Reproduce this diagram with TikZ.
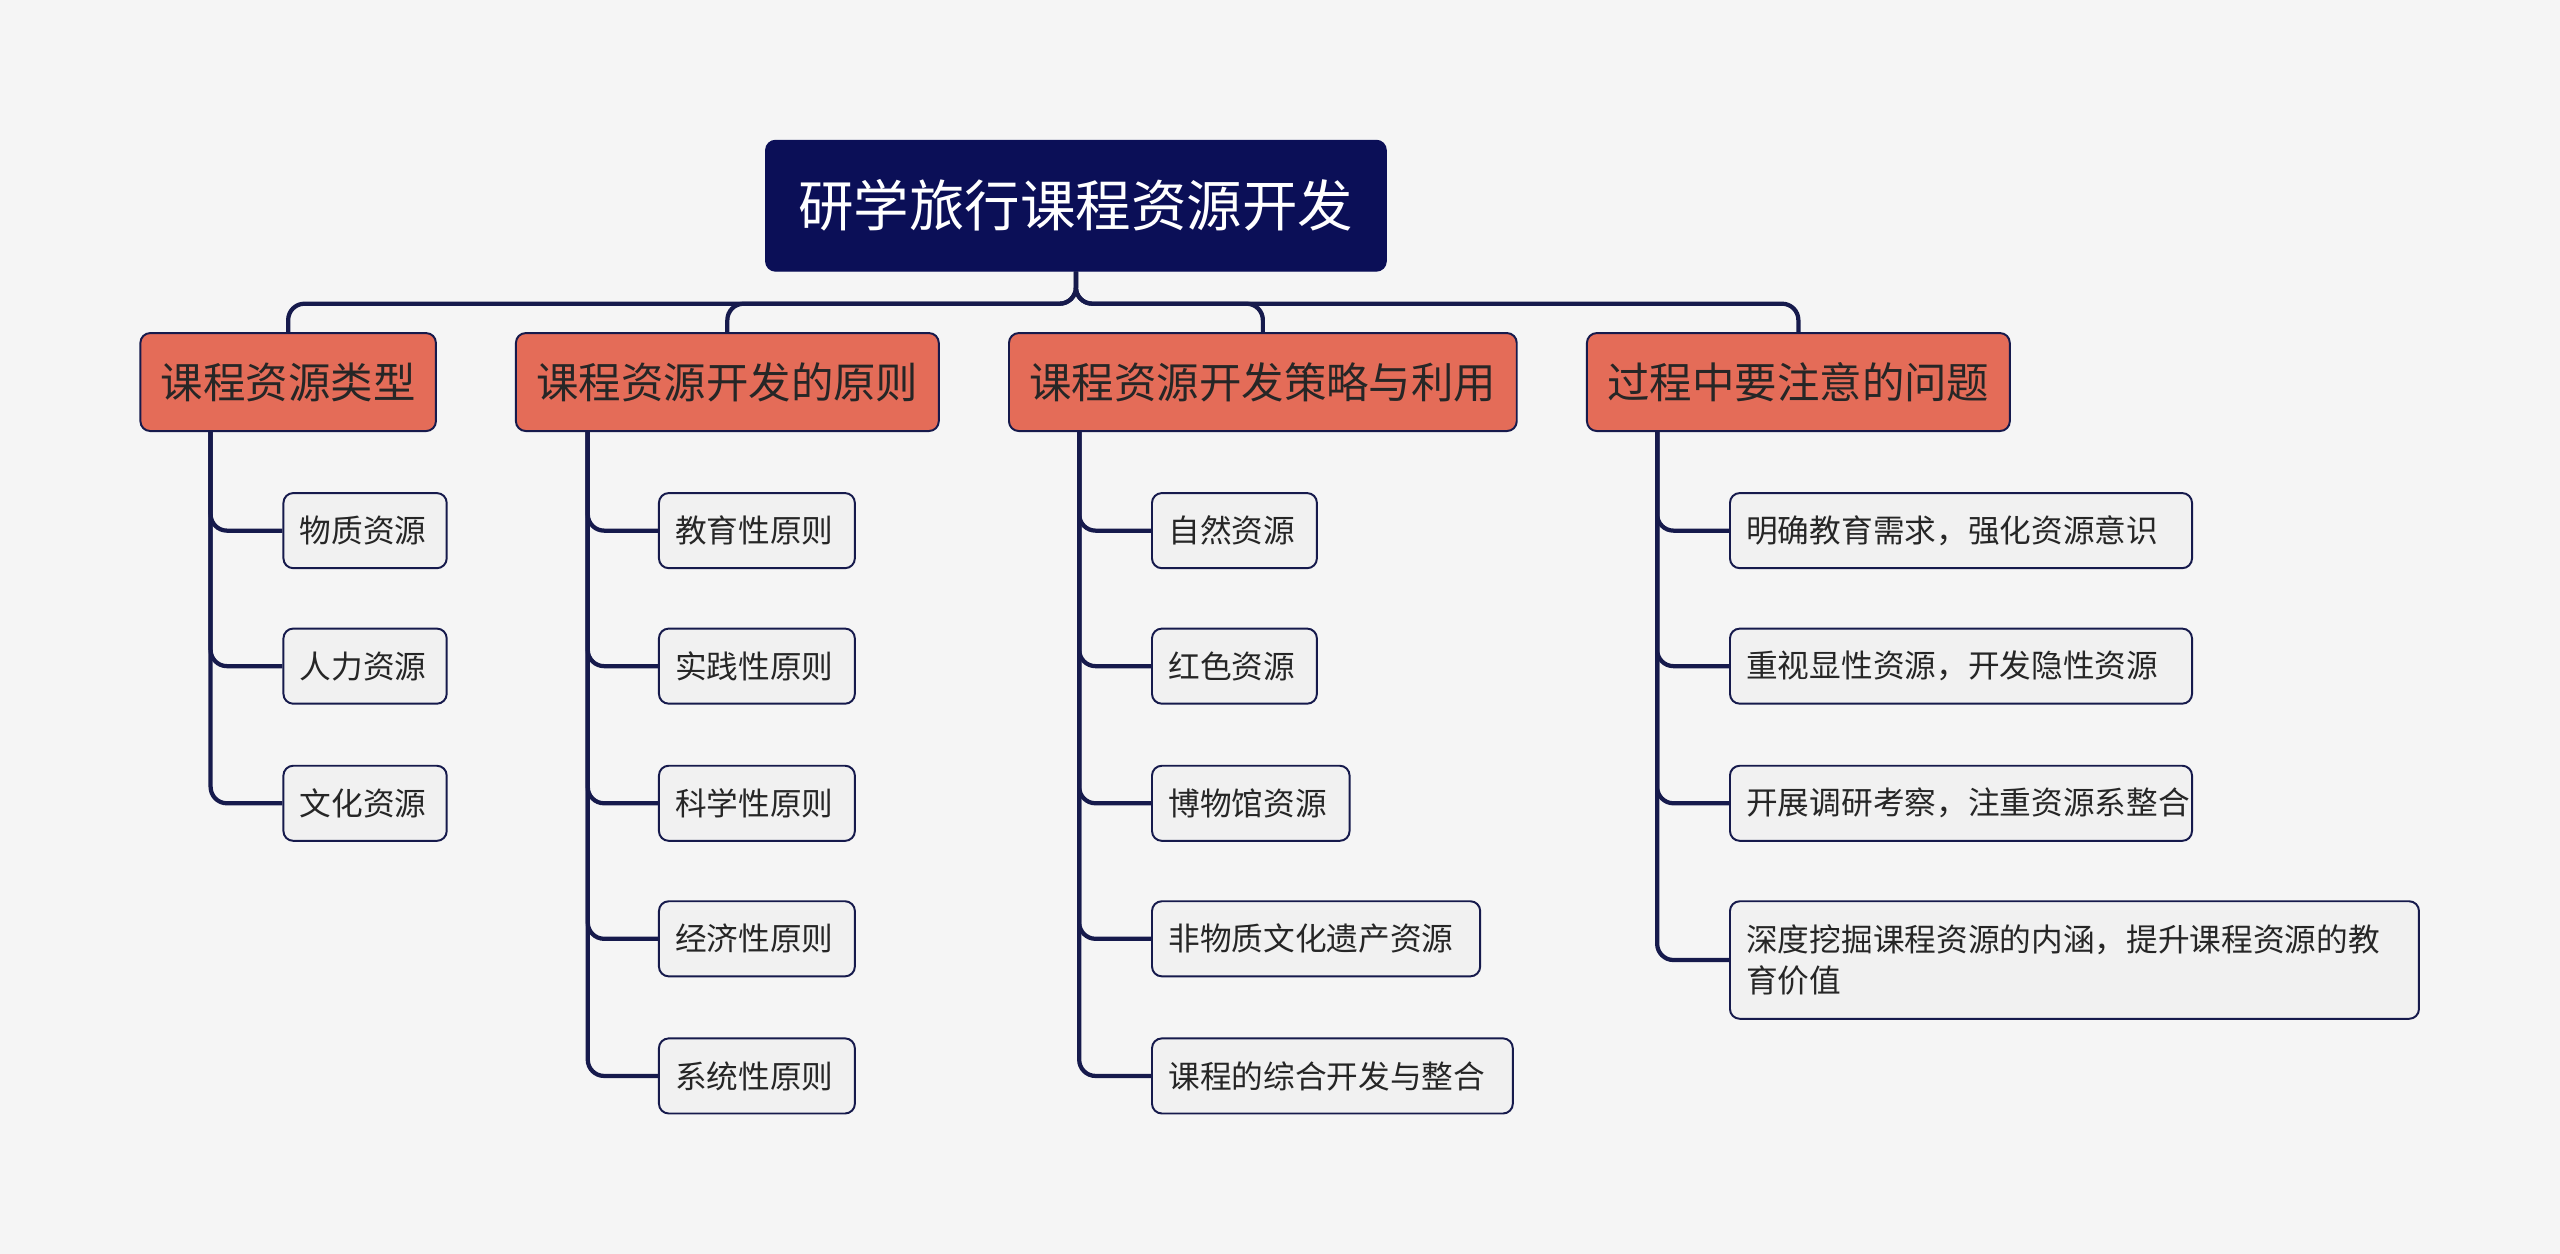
\documentclass[tikz,border=0pt]{standalone}
\usepackage{fontspec}
\newfontfamily\cjk{Noto Sans CJK SC}
\definecolor{bg}{HTML}{F5F5F5}
\definecolor{navy}{HTML}{0B0F57}
\definecolor{ln}{HTML}{161A4C}
\definecolor{sal}{HTML}{E46C58}
\definecolor{leaf}{HTML}{F1F1F1}
\begin{document}
\begin{tikzpicture}[x=0.5pt,y=-0.5pt,font=\cjk,
  root/.style={draw=navy,fill=navy,rounded corners=3pt,text=white,font=\cjk\fontsize{17}{20}\selectfont,inner sep=0pt},
  cat/.style={draw=ln,line width=0.6pt,fill=sal,rounded corners=3pt,text=black!85,font=\cjk\fontsize{13}{15}\selectfont,inner sep=0pt},
  lf/.style={draw=ln,line width=0.6pt,fill=leaf,rounded corners=3pt,text=black!85,font=\cjk\fontsize{9.7}{12.8}\selectfont,inner xsep=5pt,inner ysep=0pt,align=left,anchor=west},
  con/.style={draw=ln,line width=1.3pt,rounded corners=5pt}]
\fill[bg] (0,0) rectangle (1568,768);
\useasboundingbox (0,0) rectangle (1568,768);
\node[root,minimum width=190pt,minimum height=40pt] (r) at (659,126) {研学旅行课程资源开发};
\node[cat,minimum width=90.5pt,minimum height=30pt] (a) at (176.5,234) {课程资源类型};
\node[cat,minimum width=129.5pt,minimum height=30pt] (b) at (445.5,234) {课程资源开发的原则};
\node[cat,minimum width=155.5pt,minimum height=30pt] (c) at (773.5,234) {课程资源开发策略与利用};
\node[cat,minimum width=129.5pt,minimum height=30pt] (d) at (1101.5,234) {过程中要注意的问题};
\coordinate (j) at (659,186);
\foreach \n in {a,b,c,d}{\draw[con] (r.south) -- (j) -| (\n.north);}
\newcommand{\leafnode}[5]{\node[lf,minimum height=23pt,text width=#3*0.5pt-10pt] (#1) at (#2) {#4};
  \draw[con] (#5) |- (#1.west);}
\coordinate (ta) at (129,264);
\coordinate (tb) at (360,264);
\coordinate (tc) at (661,264);
\coordinate (td) at (1015,264);
\leafnode{a1}{173,325}{100}{物质资源}{ta}
\leafnode{a2}{173,408}{100}{人力资源}{ta}
\leafnode{a3}{173,492}{100}{文化资源}{ta}
\leafnode{b1}{403,325}{120}{教育性原则}{tb}
\leafnode{b2}{403,408}{120}{实践性原则}{tb}
\leafnode{b3}{403,492}{120}{科学性原则}{tb}
\leafnode{b4}{403,575}{120}{经济性原则}{tb}
\leafnode{b5}{403,659}{120}{系统性原则}{tb}
\leafnode{c1}{705,325}{101}{自然资源}{tc}
\leafnode{c2}{705,408}{101}{红色资源}{tc}
\leafnode{c3}{705,492}{121}{博物馆资源}{tc}
\leafnode{c4}{705,575}{201}{非物质文化遗产资源}{tc}
\leafnode{c5}{705,659}{221}{课程的综合开发与整合}{tc}
\leafnode{d1}{1059,325}{283}{明确教育需求，强化资源意识}{td}
\leafnode{d2}{1059,408}{283}{重视显性资源，开发隐性资源}{td}
\leafnode{d3}{1059,492}{283}{开展调研考察，注重资源系整合}{td}
\node[lf,minimum height=36pt,text width=201pt] (d4) at (1059,588) {深度挖掘课程资源的内涵，提升课程资源的教\\育价值};
\draw[con] (td) |- (d4.west);
\end{tikzpicture}
\end{document}
